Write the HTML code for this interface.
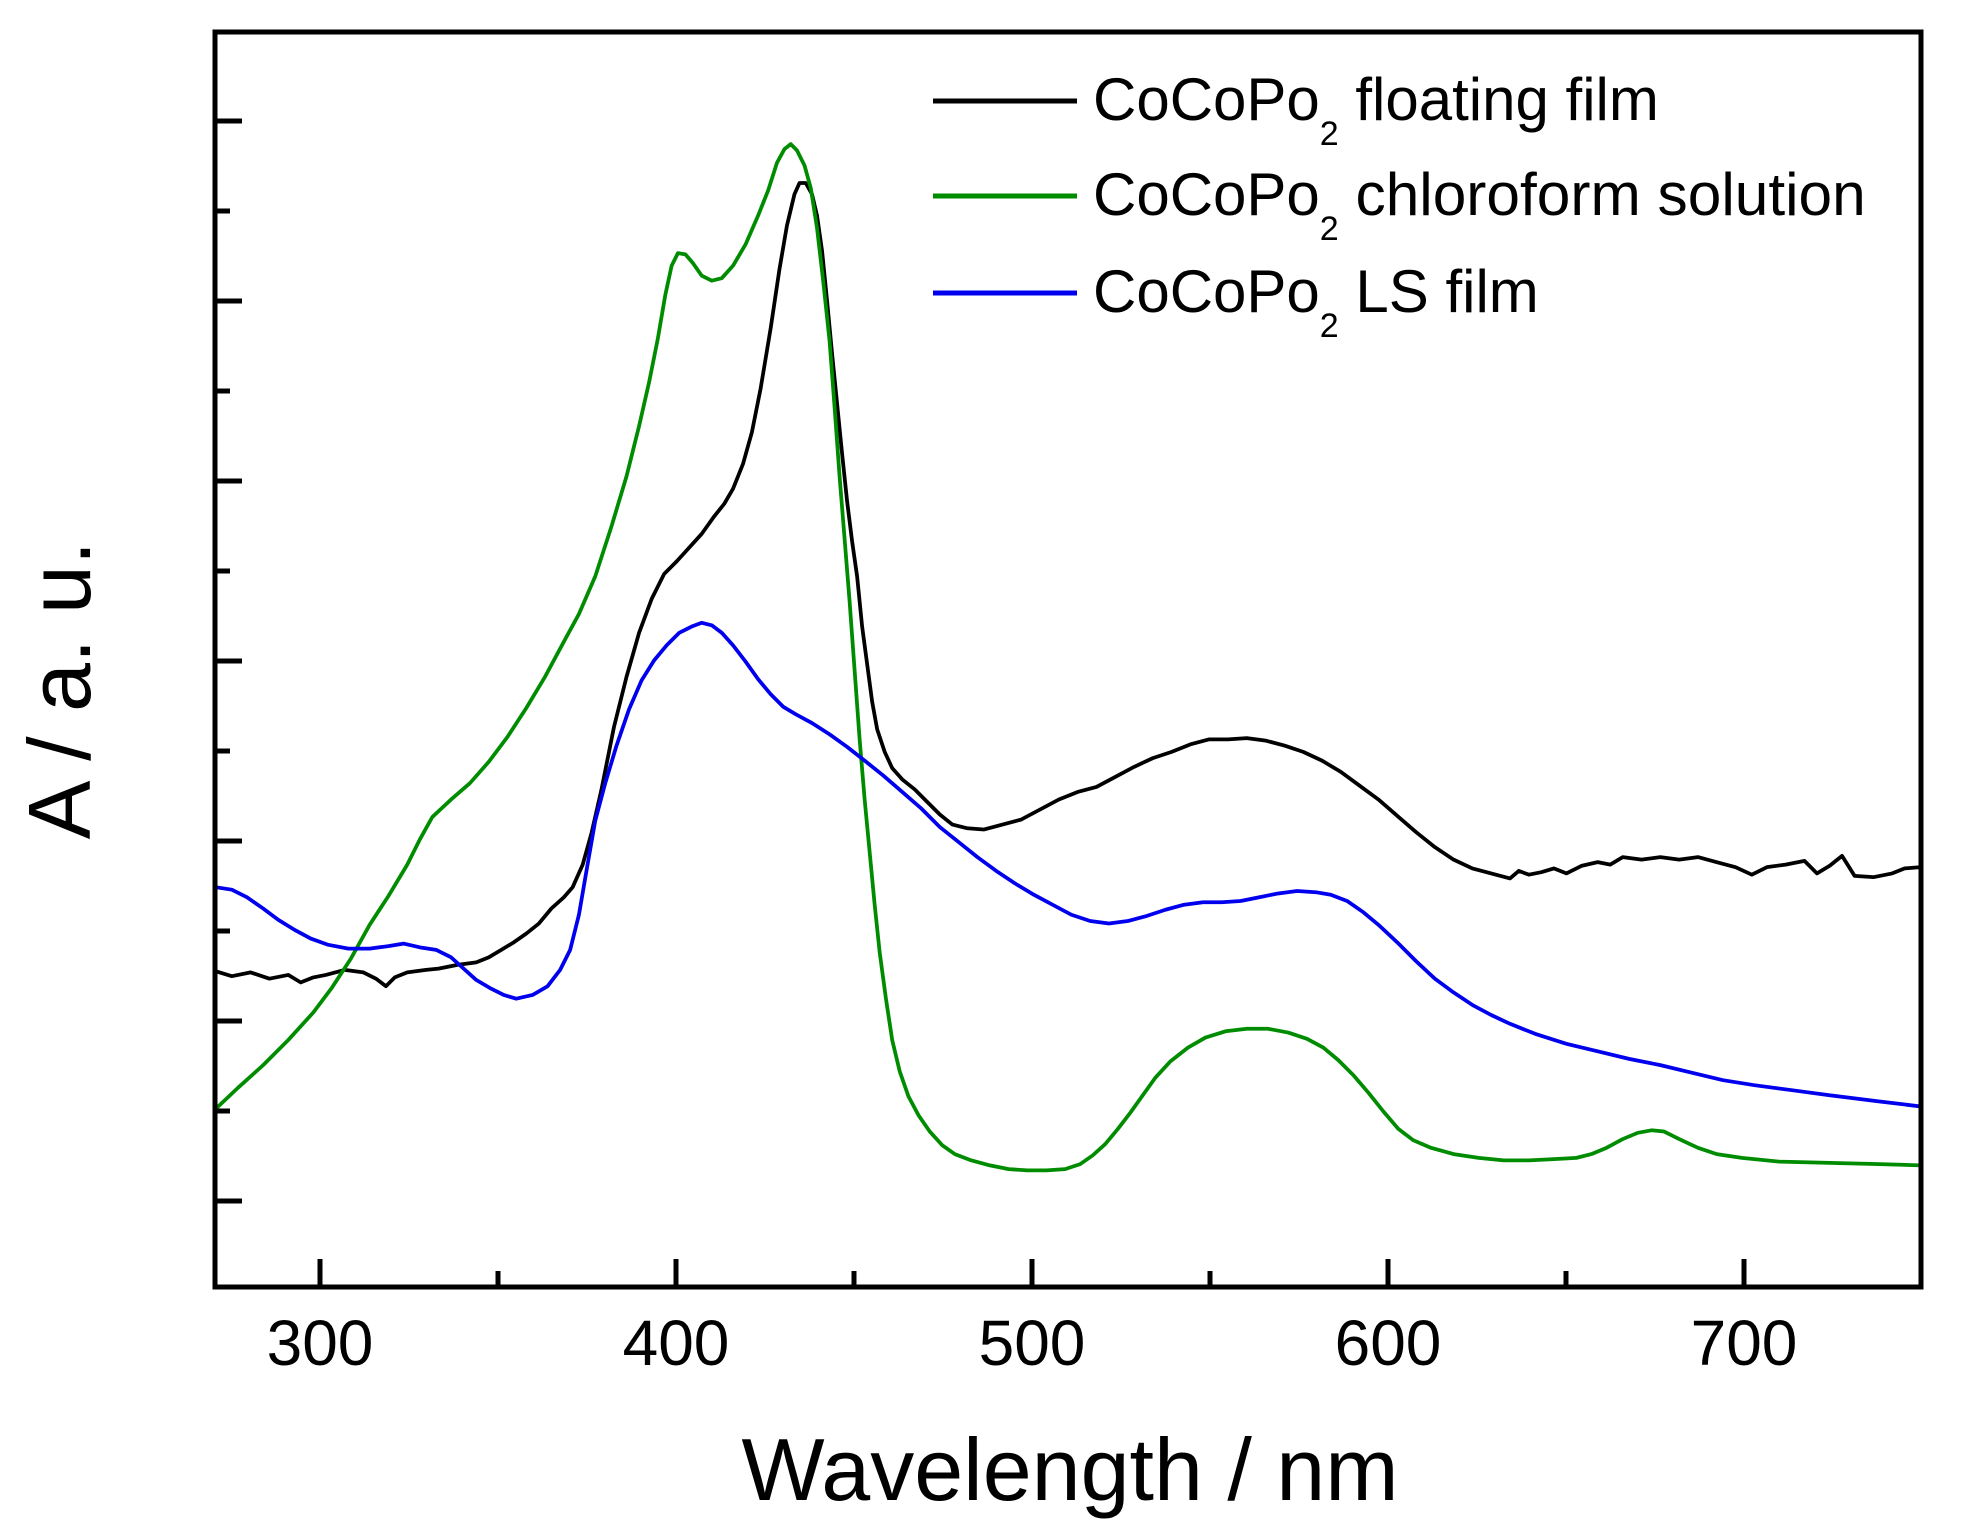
<!DOCTYPE html>
<html><head><meta charset="utf-8"><style>html,body{margin:0;padding:0;background:#fff}svg{display:block}</style></head>
<body>
<svg width="1964" height="1525" viewBox="0 0 1964 1525" xmlns="http://www.w3.org/2000/svg" font-family="Liberation Sans, Arial, sans-serif">
<rect width="1964" height="1525" fill="#fff"/>
<g transform="scale(1.2531 1.2531)" fill="none" stroke-width="3" stroke-linejoin="round">
<polyline stroke="#000" points="172,775 185,779 200,776 215,781 230,778 240,784 250,780 260,778 275,774 290,776 300,781 308,787 315,780 325,776 340,774 350,773 365,770 380,768 390,764 400,758 410,752 420,745 430,737 440,725 450,716 457,708 465,690 472,665 480,630 490,580 500,540 510,505 520,478 530,458 540,448 550,437 560,426 570,412 578,402 585,390 593,370 600,345 607,310 615,262 622,215 628,180 634,155 638,146 643,146 648,155 652,172 656,200 660,240 664,282 668,322 672,362 676,400 680,432 684,460 688,500 692,530 696,560 700,582 706,600 712,613 720,622 730,630 740,640 750,650 760,658 772,661 785,662 800,658 815,654 830,646 845,638 860,632 875,628 890,620 905,612 920,605 935,600 950,594 965,590 980,590 995,589 1010,591 1025,595 1040,600 1055,607 1070,616 1085,627 1100,638 1115,651 1130,664 1145,676 1160,686 1175,693 1190,697 1205,701 1212,695 1220,698 1230,696 1240,693 1250,697 1262,691 1275,688 1285,690 1295,684 1310,686 1325,684 1340,686 1355,684 1370,688 1385,692 1398,698 1410,692 1425,690 1440,687 1450,697 1460,691 1470,683 1480,699 1495,700 1510,697 1520,693 1533,692"/>
<polyline stroke="#008c00" points="172,885 190,868 210,850 230,830 250,808 265,788 280,765 295,738 310,715 325,690 335,670 345,652 360,638 375,625 390,608 405,588 420,565 435,540 450,512 462,490 475,460 488,420 500,380 510,340 518,305 525,270 531,235 536,212 541,202 547,203 553,210 560,220 568,224 576,222 585,212 595,195 605,172 613,152 620,130 626,119 631,115 636,120 642,132 647,150 652,182 657,225 662,272 666,325 670,380 674,430 678,480 682,535 686,590 690,638 694,680 698,722 702,760 707,797 712,830 718,855 725,875 733,890 742,903 752,914 762,921 775,926 790,930 805,933 820,934 835,934 850,933 862,929 872,922 882,913 892,901 902,888 912,874 922,860 934,847 948,836 962,828 978,823 995,821 1012,821 1028,824 1043,829 1056,836 1068,846 1080,858 1092,872 1104,887 1116,901 1128,910 1142,916 1160,921 1180,924 1200,926 1220,926 1240,925 1258,924 1270,921 1282,916 1295,909 1307,904 1318,902 1328,903 1340,909 1355,916 1370,921 1390,924 1420,927 1460,928 1500,929 1533,930"/>
<polyline stroke="#0000ee" points="172,708 185,710 197,716 210,725 222,734 235,742 248,749 262,754 278,757 295,757 310,755 322,753 335,756 348,758 360,764 370,773 380,782 392,789 402,794 412,797 425,794 437,787 447,774 455,758 462,730 468,695 475,655 483,625 492,595 502,566 512,543 522,527 532,515 542,505 552,500 560,497 568,499 576,505 585,515 595,528 605,542 615,554 625,564 635,570 648,577 662,586 676,596 690,607 705,619 720,632 735,645 750,660 765,672 780,684 795,695 810,705 825,714 840,722 855,730 870,735 885,737 900,735 915,731 930,726 945,722 960,720 975,720 990,719 1005,716 1020,713 1035,711 1050,712 1062,714 1075,719 1088,728 1100,738 1115,752 1130,767 1145,781 1160,792 1175,802 1190,810 1205,817 1225,825 1250,833 1275,839 1300,845 1325,850 1350,856 1375,862 1400,866 1430,870 1460,874 1500,879 1533,883"/>
</g>
<g stroke="#000" stroke-width="5" fill="none">
<rect x="215" y="32" width="1706" height="1255"/>
<path d="M320 1287V1259M676 1287V1259M1032 1287V1259M1388 1287V1259M1744 1287V1259M498 1287V1271M854 1287V1271M1210 1287V1271M1566 1287V1271"/>
<path d="M215 121H242M215 301H242M215 481H242M215 661H242M215 841H242M215 1021H242M215 1201H242M215 211H230M215 391H230M215 571H230M215 751H230M215 931H230M215 1111H230"/>
</g>
<g stroke-width="5">
<line x1="933" y1="101" x2="1077" y2="101" stroke="#000"/>
<line x1="933" y1="196" x2="1077" y2="196" stroke="#008c00"/>
<line x1="933" y1="293" x2="1077" y2="293" stroke="#0000ee"/>
</g>
<g font-size="60" fill="#000">
<text x="1093" y="120">CoCoPo<tspan font-size="34" dy="25">2</tspan><tspan dy="-25"> floating film</tspan></text>
<text x="1093" y="215">CoCoPo<tspan font-size="34" dy="25">2</tspan><tspan dy="-25" textLength="527" lengthAdjust="spacingAndGlyphs"> chloroform solution</tspan></text>
<text x="1093" y="312">CoCoPo<tspan font-size="34" dy="25">2</tspan><tspan dy="-25"> LS film</tspan></text>
</g>
<g font-size="64" fill="#000" text-anchor="middle">
<text x="320" y="1365">300</text><text x="676" y="1365">400</text><text x="1032" y="1365">500</text><text x="1388" y="1365">600</text><text x="1744" y="1365">700</text>
</g>
<text x="1070" y="1500" font-size="88" text-anchor="middle">Wavelength / nm</text>
<text transform="translate(90 690) rotate(-90)" font-size="88" text-anchor="middle">A / a. u.</text>
</svg>
</body></html>
